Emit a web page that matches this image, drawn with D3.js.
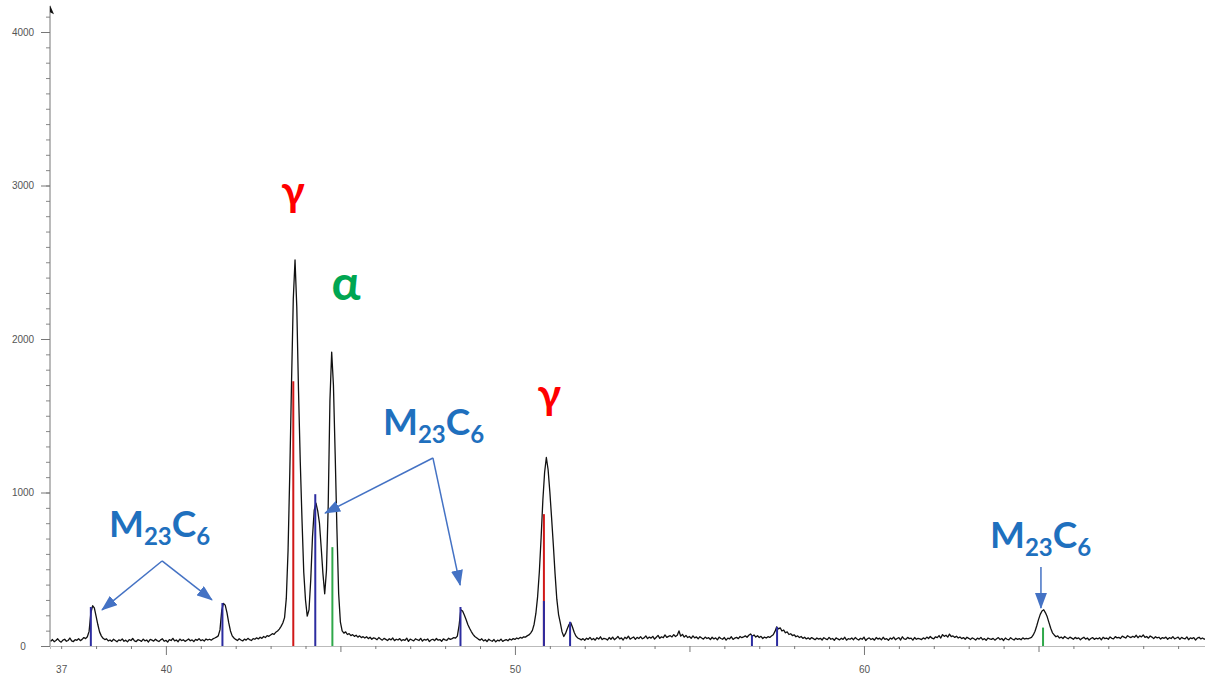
<!DOCTYPE html>
<html>
<head>
<meta charset="utf-8">
<script src="https://cdn.jsdelivr.net/npm/d3@7/dist/d3.min.js"></script>
<style>
  body { margin: 0; background: #fff; }
  .tick text { font-family: "Liberation Sans", Arial, sans-serif; font-size: 10px; fill: #555; }
  .ann { font-family: Lato, "Open Sans", sans-serif; font-weight: bold; }
</style>
</head>
<body>
<div id="chart"></div>
<script>
let width = 1205;
let height = 674;

// scan: start angle, step, and counts (one row = 1 degree)
const scanStart = 36.70;
const scanStep = 0.05;
const counts = [
  30, 42, 28, 36, 47, 33, 25, 38, 44, 31, 36, 52, 34, 29, 41, 37, 48, 35, 43, 55,
  48, 60, 95, 215, 262, 248, 195, 140, 92, 66, 50, 42, 47, 33, 39, 30, 44, 36, 28, 40,
  35, 46, 31, 38, 27, 42, 36, 49, 33, 29, 41, 37, 30, 45, 34, 39, 26, 43, 38, 32,
  44, 35, 29, 40, 47, 31, 37, 26, 42, 36, 50, 33, 39, 28, 45, 35, 41, 30, 38, 46,
  34, 40, 29, 43, 37, 48, 35, 41, 32, 46, 39, 44, 38, 47, 52, 58, 66, 105, 232, 278,
  266, 218, 152, 98, 66, 52, 43, 36, 47, 39, 33, 45, 38, 50, 41, 36, 48, 44, 53, 46,
  57, 50, 62, 55, 68, 63, 72, 80, 76, 90, 98, 110, 128, 150, 185, 310, 620, 1130, 1720, 2260,
  2515, 2210, 1660, 1200, 820, 480, 300, 195, 235, 430, 710, 885, 930, 880, 800, 640, 470, 340, 490, 910,
  1600, 1915, 1700, 1250, 760, 340, 155, 98, 84, 92, 75, 81, 68, 74, 63, 70, 58, 66, 55, 61,
  52, 60, 48, 57, 44, 53, 49, 41, 55, 46, 38, 50, 43, 36, 47, 40, 52, 35, 44, 39,
  48, 34, 42, 37, 51, 30, 45, 39, 33, 47, 41, 36, 50, 32, 43, 38, 46, 29, 40, 44,
  35, 49, 38, 42, 31, 46, 40, 36, 51, 43, 48, 55, 52, 64, 135, 236, 228, 202, 172, 140,
  116, 94, 76, 62, 54, 45, 38, 47, 33, 41, 29, 44, 36, 31, 42, 27, 38, 33, 45, 30,
  37, 42, 34, 46, 39, 48, 43, 52, 47, 56, 51, 60, 58, 66, 72, 84, 102, 142, 212, 322,
  485, 705, 950, 1130, 1228, 1150, 1005, 835, 660, 470, 305, 205, 150, 92, 62, 82, 112, 140, 152, 122,
  88, 64, 52, 47, 40, 48, 37, 51, 43, 56, 41, 49, 38, 54, 45, 60, 42, 50, 47, 39,
  55, 44, 58, 41, 50, 62, 46, 53, 39, 57, 48, 64, 45, 52, 59, 43, 56, 49, 61, 47,
  53, 66, 48, 58, 51, 63, 45, 57, 69, 50, 60, 54, 72, 56, 63, 67, 59, 74, 62, 70,
  98, 64, 76, 58, 69, 55, 62, 50, 66, 53, 59, 47, 61, 52, 45, 58, 49, 54, 42, 57,
  46, 53, 40, 58, 49, 44, 55, 38, 51, 47, 60, 43, 52, 56, 48, 62, 54, 59, 66, 57,
  70, 78, 64, 72, 58, 67, 55, 63, 49, 58, 52, 61, 56, 65, 73, 95, 125, 112, 118, 98,
  104, 86, 92, 75, 80, 68, 73, 60, 66, 55, 62, 50, 57, 46, 53, 44, 55, 48, 41, 52,
  45, 50, 39, 54, 47, 42, 56, 44, 49, 37, 53, 46, 40, 51, 43, 57, 38, 48, 44, 52,
  41, 55, 46, 39, 50, 44, 58, 36, 47, 53, 42, 49, 38, 55, 45, 51, 40, 57, 43, 48,
  37, 52, 45, 58, 41, 49, 54, 39, 60, 46, 43, 56, 48, 51, 38, 55, 44, 50, 47, 42,
  53, 45, 58, 49, 62, 51, 47, 60, 55, 68, 52, 74, 63, 70, 58, 77, 61, 66, 56, 64,
  52, 59, 48, 55, 44, 57, 50, 42, 53, 47, 39, 51, 45, 56, 41, 48, 37, 52, 46, 43,
  50, 38, 47, 55, 42, 49, 36, 52, 44, 40, 54, 46, 39, 51, 43, 48, 41, 53, 45, 49,
  47, 52, 56, 72, 96, 132, 172, 206, 228, 236, 216, 190, 152, 116, 86, 72, 60, 66, 52, 58,
  49, 62, 54, 47, 58, 51, 44, 56, 48, 53, 41, 50, 57, 45, 52, 39, 49, 55, 43, 51,
  46, 54, 40, 57, 48, 52, 44, 59, 50, 47, 61, 53, 56, 49, 64, 58, 52, 67, 60, 55,
  63, 57, 70, 54, 66, 59, 72, 56, 62, 51, 65, 58, 48, 60, 53, 57, 45, 55, 50, 58,
  44, 54, 49, 61, 47, 52, 58, 43, 56, 50, 46, 59, 41, 53, 48, 55, 39, 51, 57, 46,
  52, 44, 50
];

// reference sticks
const gammaPos = [43.65, 50.83];
const gammaInt = [1724, 859];
const alphaPos = [44.77, 65.13];
const alphaInt = [644, 120];
const carbidePos = [37.85, 41.62, 44.28, 48.44, 50.83, 51.58, 56.79, 57.51];
const carbideInt = [254, 280, 989, 254, 293, 158, 70, 124];

// axis ticks
const xLabels = [37, 40, 50, 60];
const yLabels = [0, 1000, 2000, 3000, 4000];

// annotations (2theta, counts)
const phaseText = [
  {t: "γ", x: 43.64, y: 2866, c: "#ff0000", s: 42},
  {t: "α", x: 45.16, y: 2255, c: "#00a651", s: 48},
  {t: "γ", x: 50.98, y: 1544, c: "#ff0000", s: 42}
];
const carbideLabels = [[38.37, 710], [46.22, 1375], [63.61, 638]];
const arrows = [
  [39.89, 554, 38.17, 235],
  [39.89, 554, 41.32, 300],
  [47.65, 1225, 44.56, 866],
  [47.65, 1225, 48.43, 397],
  [65.07, 515, 65.07, 248]
];

let svg = d3.select("#chart").append("svg")
  .attr("width", width)
  .attr("height", height);

var x = d3.scaleLinear().domain([36.68, 69.77]).range([50, 1205]);
var y = d3.scaleLinear().domain([0, 4000]).range([646, 32]);

var scan = counts.map((c, i) => [scanStart + i * scanStep, c]);

// axes
var xg = svg.append("g").attr("transform", "translate(0," + y(0) + ")");
xg.call(d3.axisBottom(x).tickValues(d3.range(37, 70)).tickSize(3).tickFormat(""));
xg.selectAll(".tick line")
  .attr("y2", d => d % 10 == 0 ? 9 : (d % 5 == 0 ? 6 : 3))
  .attr("stroke", "#777");
xg.select(".domain").attr("stroke", "#bbb");
var xl = svg.append("g").attr("transform", "translate(0," + y(0) + ")");
xl.call(d3.axisBottom(x).tickValues(xLabels).tickSize(0).tickPadding(20).tickFormat(d3.format("d")));
xl.select(".domain").remove();

var yg = svg.append("g").attr("transform", "translate(50,0)");
yg.call(d3.axisLeft(y).tickValues(d3.range(0, 4200, 100)).tickSize(4).tickFormat(""));
yg.selectAll(".tick line").attr("stroke", "#888");
yg.select(".domain").remove();
var yl = svg.append("g").attr("transform", "translate(50,0)");
yl.call(d3.axisLeft(y).tickValues(yLabels).tickSize(9).tickSizeOuter(0).tickFormat(d3.format("d")));
yl.selectAll(".tick line").attr("stroke", "#777");
yl.selectAll(".tick text").attr("x", -27).attr("text-anchor", "middle");
yl.select(".domain").remove();

svg.append("line")
  .attr("x1", 50).attr("x2", 50)
  .attr("y1", y(0)).attr("y2", y(4170))
  .attr("stroke", "#777");
svg.append("path")
  .attr("d", "M50," + (y(4175)) + "L54," + (y(4175) + 9) + "L50," + (y(4175) + 7) + "Z")
  .attr("fill", "#111");

// scan line
svg.append("path")
  .datum(scan)
  .attr("fill", "none")
  .attr("stroke", "#111")
  .attr("stroke-width", 1.3)
  .attr("stroke-linejoin", "round")
  .attr("d", d3.line().x(d => x(d[0])).y(d => y(d[1])));

// sticks
function sticks(pos, ints, color) {
  svg.append("g").selectAll("line")
    .data(pos.map((p, i) => [p, ints[i]]))
    .enter().append("line")
    .attr("x1", d => x(d[0])).attr("x2", d => x(d[0]))
    .attr("y1", y(0)).attr("y2", d => y(d[1]))
    .attr("stroke", color)
    .attr("stroke-width", 2);
}
sticks(gammaPos, gammaInt, "#d01818");
sticks(alphaPos, alphaInt, "#2fa84a");
sticks(carbidePos, carbideInt, "#2c2ca0");

// arrows
svg.append("defs").append("marker")
  .attr("id", "head")
  .attr("markerUnits", "userSpaceOnUse")
  .attr("viewBox", "0 0 16 12")
  .attr("refX", 15).attr("refY", 6)
  .attr("markerWidth", 16).attr("markerHeight", 12)
  .attr("orient", "auto")
  .append("path")
  .attr("d", "M0,0L16,6L0,12Z")
  .attr("fill", "#4472c4");

svg.append("g").selectAll("line")
  .data(arrows)
  .enter().append("line")
  .attr("x1", d => x(d[0])).attr("y1", d => y(d[1]))
  .attr("x2", d => x(d[2])).attr("y2", d => y(d[3]))
  .attr("stroke", "#4472c4")
  .attr("stroke-width", 1.5)
  .attr("marker-end", "url(#head)");

// labels
svg.append("g").selectAll("text")
  .data(phaseText)
  .enter().append("text")
  .attr("class", "ann")
  .attr("x", d => x(d.x)).attr("y", d => y(d.y))
  .attr("text-anchor", "middle")
  .attr("font-size", d => d.s)
  .attr("fill", d => d.c)
  .text(d => d.t);

carbideLabels.forEach(function (p) {
  var t = svg.append("text")
    .attr("class", "ann")
    .attr("x", x(p[0])).attr("y", y(p[1]))
    .attr("fill", "#1f70be")
    .attr("font-size", 37);
  t.append("tspan").text("M");
  t.append("tspan").attr("font-size", 24).attr("dy", 8).text("23");
  t.append("tspan").attr("dy", -8).text("C");
  t.append("tspan").attr("font-size", 24).attr("dy", 8).text("6");
});
</script>
</body>
</html>
